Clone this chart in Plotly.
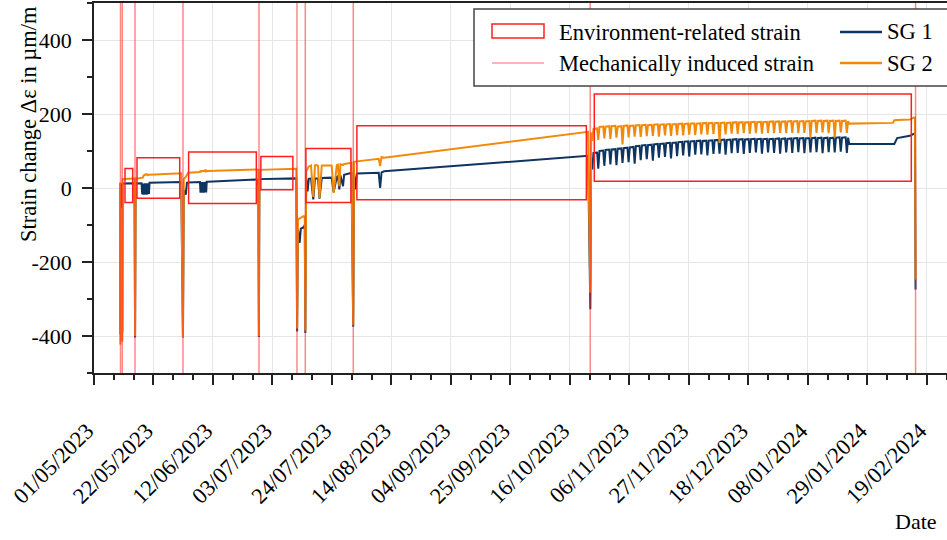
import pandas as pd
import plotly.graph_objects as go

START = "2023-05-01"

# time axis in days since START, shared by both strain gauges
t_days = [
    9.2, 9.3, 9.4, 9.9, 10.0, 10.1, 14.3, 14.5, 14.7, 16.8,
    17.0, 17.2, 17.4, 17.6, 17.8, 18.0, 18.2, 18.4, 18.6, 18.8, 19.0, 19.2, 19.4, 19.6,
    30.8, 31.4, 31.7, 32.4, 32.8, 33.2, 37.4,
    37.6, 37.8, 38.0, 38.2, 38.4, 38.6, 38.8, 39.0, 39.2, 39.4, 39.6, 39.8, 40.1,
    57.5, 57.9, 58.0, 58.2, 58.4, 71.4, 71.7,
    72.0, 72.6, 73.0, 74.0, 74.4, 74.6,
    74.9, 75.4, 75.8, 76.6, 77.4, 78.0, 78.6, 79.1, 79.6, 80.4, 83.9, 84.6, 85.7, 86.1, 86.6, 87.0, 87.9, 88.3, 90.9,
    91.5, 91.8, 92.3, 92.8, 100.5, 101.0, 101.5, 102.4, 174.4, 175.2, 175.5, 175.9,
    176.30, 177.60, 178.00, 178.44, 179.74, 180.14, 180.58, 181.88, 182.28,
    182.72, 184.02, 184.42, 184.86, 186.16, 186.56, 187.00, 188.30, 188.70,
    189.14, 190.44, 190.84, 191.28, 192.58, 192.98, 193.42, 194.72, 195.12,
    195.56, 196.86, 197.26, 197.70, 199.00, 199.40, 199.84, 201.14, 201.54,
    201.98, 203.28, 203.68, 204.12, 205.42, 205.82, 206.26, 207.56, 207.96,
    208.40, 209.70, 210.10, 210.54, 211.84, 212.24, 212.68, 213.98, 214.38,
    214.82, 216.12, 216.52, 216.96, 218.26, 218.66, 219.10, 220.40, 220.80,
    221.24, 222.54, 222.94, 223.38, 224.68, 225.08, 225.52, 226.82, 227.22,
    227.66, 228.96, 229.36, 229.80, 231.10, 231.50, 231.94, 233.24, 233.64,
    234.08, 235.38, 235.78, 236.22, 237.52, 237.92, 238.36, 239.66, 240.06,
    240.50, 241.80, 242.20, 242.64, 243.94, 244.34, 244.78, 246.08, 246.48,
    246.92, 248.22, 248.62, 249.06, 250.36, 250.76, 251.20, 252.50, 252.90,
    253.34, 254.64, 255.04, 255.48, 256.78, 257.18, 257.62, 258.92, 259.32,
    259.76, 261.06, 261.46, 261.90, 263.20, 263.60, 264.04, 265.34, 265.74,
    266.2, 266.6, 282.0, 282.5, 283.5, 288.0, 289.0, 289.8, 290.0,
]

sg1 = [
    12, -395, 10, 11, -390, 12, 13, -404, 12, 13,
    -17, 12, -18, 12, -18, 13, -17, 13, -18, 13, -17, 13, -16, 14,
    16, -404, -5, -18, 14, 15, 16,
    -13, 16, -13, 16, -13, 16, -13, 16, -12, 17, -12, 17, 17,
    23, 8, 23, -403, 24, 26, -388,
    -112, -148, -110, -106, -100, -392,
    25, -9, 25, 26, -31, 26, 26, 25, -29, 27, 28, -11, 30, 32, -4, 34, 5, 36, 41,
    -375, 39, -4, 39, 41, 0, 42, 45, 87, -328, 77, 50,
    95, 96, 52, 100, 101, 60, 103, 104, 64,
    104, 105, 62, 106, 107, 68, 108, 109, 70,
    110, 111, 66, 113, 114, 75, 115, 116, 78,
    116, 117, 74, 118, 119, 82, 119, 120, 84,
    121, 122, 80, 122, 123, 86, 124, 125, 88,
    125, 126, 85, 126, 127, 90, 127, 128, 91,
    127, 128, 88, 128, 129, 92, 129, 130, 93,
    130, 131, 90, 130, 131, 94, 131, 132, 95,
    131, 132, 92, 131, 132, 95, 132, 133, 96,
    132, 133, 93, 132, 133, 96, 132, 133, 95,
    133, 134, 93, 133, 134, 96, 133, 134, 95,
    134, 135, 97, 134, 135, 94, 134, 135, 96,
    135, 136, 97, 135, 136, 94, 135, 136, 97,
    135, 136, 96, 136, 137, 98, 136, 137, 95,
    136, 119, 119, 119, 135, 141, 145, 148, -274,
]

sg2 = [
    15, -423, -60, -55, -415, 24, 26, -400, 25, 26,
    27, 28, 31, 36, 33, 38, 34, 39, 35, 38, 35, 37, 36, 36,
    40, -403, 24, 30, 36, 41, 43,
    47, 43, 48, 44, 48, 44, 48, 44, 47, 45, 47, 45, 46,
    50, 49, 49, -400, 49, 52, -380,
    -85, -82, -80, -76, -78, -385,
    45, 55, 58, 61, -24, 61, 62, 60, -27, 61, 61, -13, 62, 63, 5, 64, 62, 65, 68,
    -370, 71, 71, 72, 79, 59, 84, 82, 152, -283, 150, 127,
    160, 161, 130, 165, 166, 134, 166, 167, 133,
    167, 168, 136, 166, 167, 118, 168, 169, 137,
    168, 169, 139, 169, 170, 138, 170, 171, 140,
    170, 171, 141, 171, 172, 139, 171, 172, 142,
    172, 173, 141, 172, 173, 143, 173, 174, 142,
    173, 174, 144, 174, 175, 143, 174, 175, 145,
    175, 176, 144, 175, 176, 146, 175, 176, 122,
    176, 177, 145, 176, 177, 147, 177, 178, 146,
    177, 178, 148, 177, 178, 147, 178, 179, 148,
    178, 179, 147, 178, 179, 149, 179, 180, 148,
    179, 180, 149, 179, 180, 148, 180, 181, 149,
    180, 181, 148, 180, 181, 149, 180, 181, 136,
    181, 182, 149, 181, 182, 150, 181, 182, 148,
    181, 182, 136, 181, 182, 150, 181, 182, 149,
    181, 174, 176, 183, 184, 185, 189, 190, -247,
]

# mechanically induced strain events (days since START)
mech_days = [9.35, 9.99, 14.47, 31.41, 58.24, 71.65, 74.58, 91.52, 175.16, 290.01]

# environment-related strain windows
env_start = [10.94, 15.18, 33.4, 58.9, 74.8, 92.8, 176.6]
env_end = [13.66, 30.25, 57.3, 70.2, 90.7, 173.8, 288.5]
env_low = [-39, -28, -42, -5, -39, -32, 18]
env_high = [53, 82, 97, 85, 107, 168, 254]

y_ticks = [-400, -200, 0, 200, 400]
y_tick_labels = [str(v) for v in y_ticks]

series_names = ["SG 1", "SG 2"]
legend_labels = ["Environment-related strain", "Mechanically induced strain"]

# ---------------------------------------------------------------
start = pd.Timestamp(START)


def to_date(d):
    return start + pd.to_timedelta(d, unit="D")


dates = [to_date(d) for d in t_days]

NAVY = "#0e3462"
ORANGE = "#f18a0a"
RED = "#ff1f1f"
MECH = "rgba(255,40,40,0.55)"
FONT = "Liberation Serif"

fig = go.Figure()
fig.add_trace(go.Scatter(x=dates, y=sg1, mode="lines", name=series_names[0],
                         line=dict(color=NAVY, width=2)))
fig.add_trace(go.Scatter(x=dates, y=sg2, mode="lines", name=series_names[1],
                         line=dict(color=ORANGE, width=2)))

for d in mech_days:
    fig.add_shape(type="line", xref="x", yref="paper", x0=to_date(d), x1=to_date(d),
                  y0=0, y1=1, line=dict(color=MECH, width=1.5))

for s, e, lo, hi in zip(env_start, env_end, env_low, env_high):
    fig.add_shape(type="rect", xref="x", yref="y", x0=to_date(s), x1=to_date(e),
                  y0=lo, y1=hi, line=dict(color=RED, width=1.5))

# manual legend (pixel -> paper helpers)
L, R, T, B = 94, 947, 3, 373


def xp(px):
    return (px - L) / (R - L)


def yp(py):
    return (B - py) / (B - T)


fig.add_shape(type="rect", xref="paper", yref="paper", x0=xp(474), x1=xp(965),
              y0=yp(86), y1=yp(9), line=dict(color="#444444", width=1.5),
              fillcolor="white", layer="above")
fig.add_shape(type="rect", xref="paper", yref="paper", x0=xp(492), x1=xp(544),
              y0=yp(38), y1=yp(24), line=dict(color=RED, width=1.5))
fig.add_shape(type="line", xref="paper", yref="paper", x0=xp(492), x1=xp(544),
              y0=yp(63), y1=yp(63), line=dict(color="rgba(255,60,60,0.5)", width=1.5))
fig.add_shape(type="line", xref="paper", yref="paper", x0=xp(840), x1=xp(882),
              y0=yp(32), y1=yp(32), line=dict(color=NAVY, width=2.5))
fig.add_shape(type="line", xref="paper", yref="paper", x0=xp(840), x1=xp(882),
              y0=yp(63), y1=yp(63), line=dict(color=ORANGE, width=2.5))

leg_font = dict(family=FONT, size=22.5, color="black")
for txt, x, y in [(legend_labels[0], 557, 33), (legend_labels[1], 557, 64),
                  (series_names[0], 885, 32), (series_names[1], 885, 63)]:
    fig.add_annotation(text=txt, xref="paper", yref="paper", x=xp(x), y=yp(y),
                       xanchor="left", yanchor="middle", showarrow=False, font=leg_font)

fig.add_annotation(text="Strain change Δε in µm/m", textangle=-90, xref="paper", yref="paper",
                   x=xp(28), y=yp(124), xanchor="center", yanchor="middle", showarrow=False,
                   font=dict(family=FONT, size=22.5, color="black"))
fig.add_annotation(text="Date", xref="paper", yref="paper", x=xp(916), y=yp(521),
                   xanchor="center", yanchor="middle", showarrow=False,
                   font=dict(family=FONT, size=22, color="black"))

DAY = 86400000
fig.update_layout(
    width=947, height=540,
    margin=dict(l=L, r=0, t=T, b=540 - B),
    plot_bgcolor="white", paper_bgcolor="white",
    font=dict(family=FONT, size=22, color="black"),
    showlegend=False,
    xaxis=dict(
        type="date", range=[to_date(0), to_date(301.1)],
        tick0=to_date(0), dtick=21 * DAY, tickformat="%d/%m/%Y", tickangle=-45,
        ticks="outside", ticklen=10, tickwidth=1.5, tickcolor="#222",
        showline=True, linecolor="#222", linewidth=1.5, mirror=True,
        showgrid=True, gridcolor="#e6e6e6", gridwidth=1, zeroline=False,
        tickfont=dict(family=FONT, size=22.5),
        ticklabelstandoff=24, ticklabelshift=-7,
        minor=dict(tick0=to_date(0), dtick=7 * DAY, ticks="outside", ticklen=5,
                   tickwidth=1.5, tickcolor="#222", showgrid=False),
    ),
    yaxis=dict(
        range=[-500, 500], tickmode="array", tickvals=y_ticks, ticktext=y_tick_labels,
        ticks="outside", ticklen=10, tickwidth=1.5, tickcolor="#222",
        showline=True, linecolor="#222", linewidth=1.5,
        showgrid=True, gridcolor="#e6e6e6", gridwidth=1, zeroline=False,
        tickfont=dict(family=FONT, size=22),
        ticklabelstandoff=6,
        minor=dict(tickmode="linear", tick0=0, dtick=100, ticks="outside", ticklen=5,
                   tickwidth=1.5, tickcolor="#222", showgrid=False),
    ),
)

fig.write_html("out.html", config={"displayModeBar": False},
               post_script="document.body.style.margin='0';document.body.style.padding='0';")
